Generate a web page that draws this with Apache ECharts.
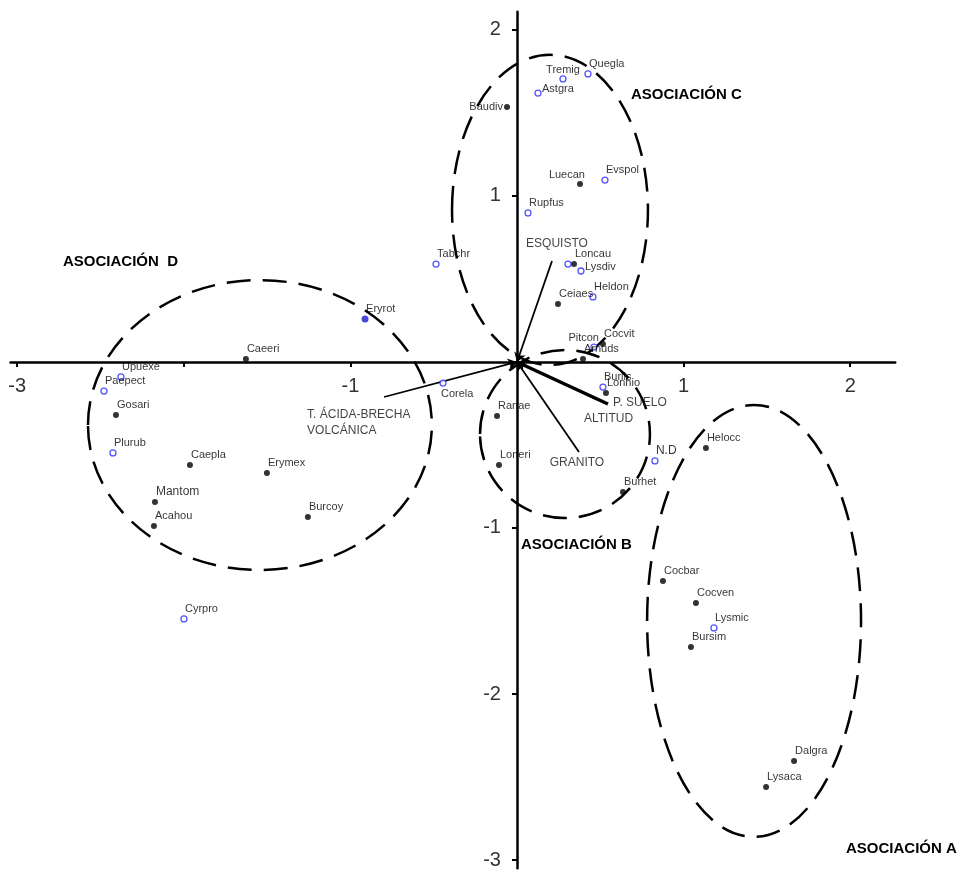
<!DOCTYPE html>
<html>
<head>
<meta charset="utf-8">
<script src="https://cdn.jsdelivr.net/npm/echarts@6/dist/echarts.min.js"></script>
<style>
  html, body { margin: 0; padding: 0; background: #fff; }
  #chart { width: 965px; height: 871px; }
</style>
</head>
<body>
<div id="chart"></div>
<script>
// marcas de los ejes
const xRange = [-3.04, 2.27];
const yRange = [-3.05, 2.11];
const xTicks = [-3, -2, -1, 0, 1, 2];
const xLabels = [-3, -1, 1, 2];
const yTicks = [-3, -2, -1, 0, 1, 2];
const yLabels = [-3, -2, -1, 1, 2];

// especies: [nombre, eje 1, eje 2]
const blackPoints = [
  ['Baudiv', -0.060, 1.536], ['Luecan', 0.378, 1.072], ['Loncau', 0.342, 0.590],
  ['Ceiaes', 0.246, 0.349], ['Cocvit', 0.516, 0.108], ['Arnuds', 0.396, 0.018],
  ['Lonhio', 0.534, -0.187], ['Ranae', -0.120, -0.325], ['Loneri', -0.108, -0.620],
  ['Burhet', 0.636, -0.783], ['Helocc', 1.134, -0.518], ['Cocbar', 0.876, -1.319],
  ['Cocven', 1.074, -1.452], ['Bursim', 1.044, -1.717], ['Dalgra', 1.663, -2.404],
  ['Lysaca', 1.495, -2.560], ['Caeeri', -1.627, 0.018], ['Gosari', -2.407, -0.319],
  ['Caepla', -1.963, -0.620], ['Erymex', -1.501, -0.669], ['Mantom', -2.173, -0.843],
  ['Acahou', -2.179, -0.988], ['Burcoy', -1.255, -0.934]
];
const openPoints = [
  ['Quegla', 0.426, 1.735], ['Tremig', 0.276, 1.705], ['Astgra', 0.126, 1.620],
  ['Evspol', 0.528, 1.096], ['Rupfus', 0.066, 0.898], ['Tabchr', -0.486, 0.590],
  ['', 0.306, 0.590], ['Lysdiv', 0.384, 0.548], ['Heldon', 0.456, 0.392],
  ['Pitcon', 0.462, 0.090], ['Burlis', 0.516, -0.151], ['Corela', -0.444, -0.127],
  ['N.D', 0.828, -0.596], ['Lysmic', 1.182, -1.602], ['Upuexe', -2.377, -0.090],
  ['Paepect', -2.479, -0.175], ['Plurub', -2.425, -0.548], ['Cyrpro', -1.999, -1.548]
];
const bluePoints = [['Eryrot', -0.912, 0.259]];

// variables ambientales
const vectorNames = ['ESQUISTO', 'T. ÁCIDA-BRECHA\nVOLCÁNICA', 'ALTITUD', 'P. SUELO', 'GRANITO'];
const vectorX = [0.210, -0.798, 0.486, 0.546, 0.372];
const vectorY = [0.608, -0.211, -0.229, -0.253, -0.542];

// asociaciones (elipses): centro y semiejes
const groupNames = ['ASOCIACIÓN A', 'ASOCIACIÓN B', 'ASOCIACIÓN C', 'ASOCIACIÓN  D'];
const groupCenters = [[1.423, -1.560], [0.288, -0.434], [0.198, 0.916], [-1.543, -0.380]];
const groupRadii = [[0.642, 1.301], [0.510, 0.506], [0.588, 0.934], [1.032, 0.873]];

const FONT = '"Liberation Sans", Arial, sans-serif';
const GRID = { left: 10.5, top: 11.7, width: 884.7, height: 856.6 };

// colocacion de etiquetas
const places = {
  tr: { align: 'left', offset: [1, -10] },
  t: { align: 'center', offset: [0, -9] },
  tl: { align: 'right', offset: [5, -9] },
  r: { align: 'left', offset: [4, -4] },
  l: { align: 'right', offset: [-4, 0] },
  br: { align: 'left', offset: [-2, 11] }
};
const labelPlace = { Tremig: 't', Astgra: 'r', Baudiv: 'l', Luecan: 'tl', Lysdiv: 'r', Pitcon: 'tl', Corela: 'br' };
const bigLabels = ['Mantom', 'N.D'];

const vectorLabel = {
  'ESQUISTO': { align: 'center', offset: [5, -17] },
  'T. ÁCIDA-BRECHA\nVOLCÁNICA': { align: 'left', offset: [-77, 26] },
  'ALTITUD': { align: 'left', offset: [-14, 19] },
  'P. SUELO': { align: 'left', offset: [5, -1] },
  'GRANITO': { align: 'center', offset: [-2, 11] }
};
const groupText = [[846, 841], [521, 537], [631, 87], [63, 254]];

function pointData(list) {
  return list.map(p => {
    const pl = places[labelPlace[p[0]] || 'tr'];
    return {
      name: p[0],
      value: [p[1], p[2]],
      label: {
        align: pl.align,
        offset: pl.offset,
        fontSize: bigLabels.includes(p[0]) ? 12 : 11
      }
    };
  });
}

const pointLabel = {
  show: true,
  position: 'inside',
  verticalAlign: 'middle',
  formatter: '{b}',
  color: '#000',
  fontFamily: FONT,
  fontSize: 11
};

// solo se rotulan los valores de la lista
function tickText(list) {
  return v => list.some(t => Math.abs(t - v) < 1e-9) ? String(Math.round(v)) : '';
}

// los ejes se cruzan en el origen: se desplazan desde el borde de la rejilla
const xAxisShift = -GRID.height * (0 - yRange[0]) / (yRange[1] - yRange[0]);
const yAxisShift = -GRID.width * (0 - xRange[0]) / (xRange[1] - xRange[0]);

const chart = echarts.init(document.getElementById('chart'));
chart.setOption({
  animation: false,
  backgroundColor: '#fff',
  grid: Object.assign({ containLabel: false, outerBoundsMode: 'none' }, GRID),
  xAxis: {
    type: 'value', min: xRange[0], max: xRange[1], splitNumber: 5,
    position: 'bottom', offset: xAxisShift,
    splitLine: { show: false },
    axisLine: { onZero: false, lineStyle: { color: '#000', width: 2.5 } },
    axisTick: { show: true, customValues: xTicks, length: 5, lineStyle: { color: '#000', width: 2 } },
    axisLabel: {
      show: true, showMinLabel: false, showMaxLabel: false, hideOverlap: false,
      formatter: tickText(xLabels), margin: 15, color: '#333', fontSize: 20, fontFamily: FONT
    }
  },
  yAxis: {
    type: 'value', min: yRange[0], max: yRange[1], splitNumber: 5,
    position: 'left', offset: yAxisShift,
    splitLine: { show: false },
    axisLine: { onZero: false, lineStyle: { color: '#000', width: 2.5 } },
    axisTick: { show: true, customValues: yTicks, length: 5, lineStyle: { color: '#000', width: 2 } },
    axisLabel: {
      show: true, showMinLabel: false, showMaxLabel: false, hideOverlap: false,
      formatter: tickText(yLabels), margin: 16, color: '#333', fontSize: 20, fontFamily: FONT
    }
  },
  graphic: groupNames.map((g, i) => ({
    type: 'text', left: groupText[i][0], top: groupText[i][1], z: 10,
    style: { text: g, font: 'bold 15px ' + FONT, fill: '#000' }
  })),
  series: [
    {
      type: 'custom',
      silent: true,
      data: groupCenters.map((c, i) => [c[0], c[1], groupRadii[i][0], groupRadii[i][1]]),
      renderItem: (params, api) => {
        const c = api.coord([api.value(0), api.value(1)]);
        const s = api.size([api.value(2), api.value(3)]);
        return {
          type: 'ellipse',
          shape: { cx: c[0], cy: c[1], rx: s[0], ry: s[1] },
          style: { fill: 'none', stroke: '#000', lineWidth: 2.5, lineDash: [24, 12] }
        };
      },
      clip: false
    },
    {
      type: 'lines',
      coordinateSystem: 'cartesian2d',
      symbol: ['arrow', 'none'],
      symbolSize: 9,
      lineStyle: { color: '#000', width: 1.8, opacity: 1 },
      data: vectorNames.map((n, i) => ({
        coords: [[0, 0], [vectorX[i], vectorY[i]]],
        lineStyle: { width: n === 'P. SUELO' ? 3.5 : 1.8 }
      }))
    },
    {
      type: 'scatter',
      symbolSize: 1,
      itemStyle: { color: 'rgba(0,0,0,0)' },
      data: vectorNames.map((n, i) => ({
        name: n,
        value: [vectorX[i], vectorY[i]],
        label: vectorLabel[n]
      })),
      label: {
        show: true, position: 'inside', verticalAlign: 'middle', formatter: '{b}',
        color: '#111', fontFamily: FONT, fontSize: 12, lineHeight: 16
      }
    },
    {
      type: 'scatter',
      symbol: 'circle',
      symbolSize: 6,
      itemStyle: { color: '#000' },
      label: pointLabel,
      data: pointData(blackPoints)
    },
    {
      type: 'scatter',
      symbol: 'circle',
      symbolSize: 6,
      itemStyle: { color: '#fff', borderColor: '#2a2aff', borderWidth: 1.3 },
      label: pointLabel,
      data: pointData(openPoints)
    },
    {
      type: 'scatter',
      symbol: 'circle',
      symbolSize: 7,
      itemStyle: { color: '#1a1ad0' },
      label: pointLabel,
      data: pointData(bluePoints)
    }
  ]
});
</script>
</body>
</html>
